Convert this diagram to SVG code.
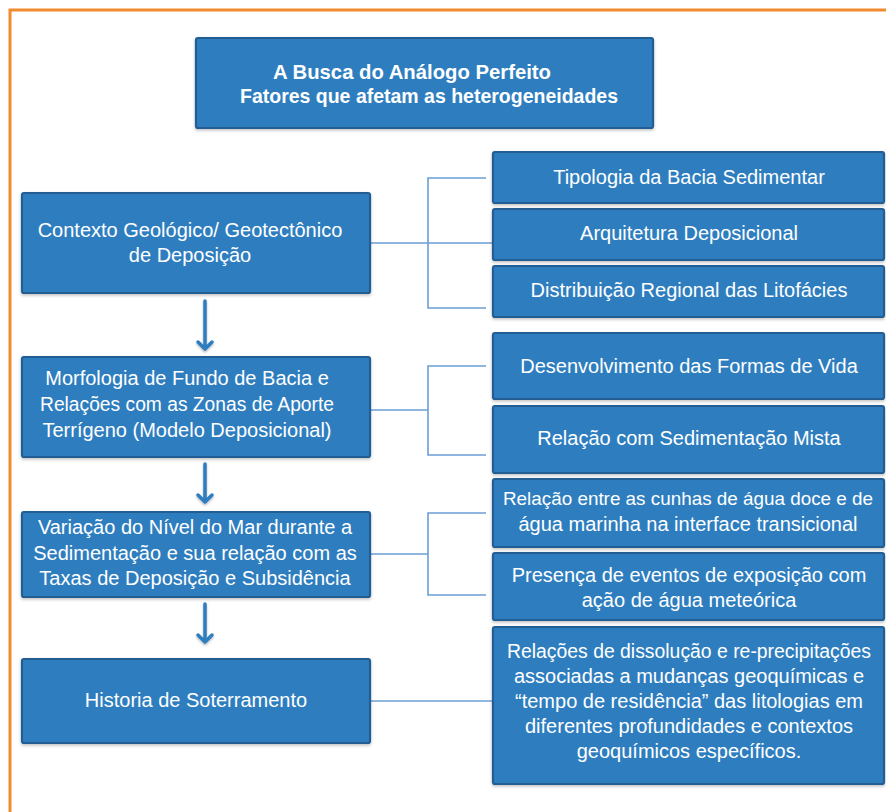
<svg xmlns="http://www.w3.org/2000/svg" width="886" height="812" viewBox="0 0 886 812">
<defs>
<filter id="sh" x="-5%" y="-5%" width="110%" height="115%">
<feDropShadow dx="0" dy="1.5" stdDeviation="1.5" flood-color="#000" flood-opacity="0.25"/>
</filter>
<filter id="ash" x="-50%" y="-10%" width="200%" height="130%">
<feDropShadow dx="0" dy="1.5" stdDeviation="1.2" flood-color="#000" flood-opacity="0.3"/>
</filter>
</defs>
<style>
.box{fill:#2f7ebf;stroke:#215d94;stroke-width:2.2;filter:url(#sh)}
.t{font-family:"Liberation Sans",Arial,sans-serif;font-size:20px;fill:#ffffff;text-anchor:middle}
.tt{font-family:"Liberation Sans",Arial,sans-serif;font-size:21px;font-weight:bold;fill:#ffffff}
.con{fill:none;stroke:#6b9fd3;stroke-width:1.6}
.arr{fill:none;stroke:#2f7ebf;stroke-width:3.5;stroke-linecap:round;stroke-linejoin:round;filter:url(#ash)}
</style>
<rect width="886" height="812" fill="#ffffff"/>
<rect x="10" y="10" width="900" height="830" fill="none" stroke="#f28a2e" stroke-width="3"/>

<g id="connectors">
<path class="con" d="M370,243 H493 M486,178 H428 V308 H486"/>
<path class="con" d="M370,410 H428 M486,366 H428 V455 H486"/>
<path class="con" d="M370,554 H428 M486,513 H428 V595 H486"/>
<path class="con" d="M370,701 H493"/>
<path class="arr" d="M205,301 V349 M198,342 L205,349 L212,342"/>
<path class="arr" d="M205,464 V502 M198,495 L205,502 L212,495"/>
<path class="arr" d="M205,604 V642 M198,635 L205,642 L212,635"/>
</g>

<g id="title">
<rect class="box" x="196" y="38" width="457" height="90" rx="2"/>
<text class="tt" x="273" y="79" textLength="278" lengthAdjust="spacingAndGlyphs">A Busca do Análogo Perfeito</text>
<text class="tt" x="240" y="103" textLength="378" lengthAdjust="spacingAndGlyphs">Fatores que afetam as heterogeneidades</text>
</g>

<g id="n-contexto">
<rect class="box" x="22" y="193" width="348" height="100" rx="2"/>
<text class="t" x="190" y="237">Contexto Geológico/ Geotectônico</text>
<text class="t" x="190" y="262">de Deposição</text>
</g>

<g id="n-morfologia">
<rect class="box" x="22" y="357" width="348" height="100" rx="2"/>
<text class="t" x="187" y="385">Morfologia de Fundo de Bacia e</text>
<text class="t" x="187" y="411" textLength="294" lengthAdjust="spacingAndGlyphs">Relações com as Zonas de Aporte</text>
<text class="t" x="187" y="437">Terrígeno (Modelo Deposicional)</text>
</g>

<g id="n-variacao">
<rect class="box" x="22" y="512" width="348" height="85" rx="2"/>
<text class="t" x="195" y="534">Variação do Nível do Mar durante a</text>
<text class="t" x="195" y="560">Sedimentação e sua relação com as</text>
<text class="t" x="195" y="585">Taxas de Deposição e Subsidência</text>
</g>

<g id="n-historia">
<rect class="box" x="22" y="659" width="348" height="84" rx="2"/>
<text class="t" x="196" y="707">Historia de Soterramento</text>
</g>

<g id="r-tipologia">
<rect class="box" x="493" y="152" width="391" height="51" rx="2"/>
<text class="t" x="689" y="184">Tipologia da Bacia Sedimentar</text>
</g>

<g id="r-arquitetura">
<rect class="box" x="493" y="209" width="391" height="51" rx="2"/>
<text class="t" x="689" y="240">Arquitetura Deposicional</text>
</g>

<g id="r-distribuicao">
<rect class="box" x="493" y="266" width="391" height="51" rx="2"/>
<text class="t" x="689" y="297">Distribuição Regional das Litofácies</text>
</g>

<g id="r-desenvolvimento">
<rect class="box" x="493" y="333" width="391" height="66" rx="2"/>
<text class="t" x="689" y="373">Desenvolvimento das Formas de Vida</text>
</g>

<g id="r-mista">
<rect class="box" x="493" y="406" width="391" height="67" rx="2"/>
<text class="t" x="689" y="445">Relação com Sedimentação Mista</text>
</g>

<g id="r-cunhas">
<rect class="box" x="493" y="479" width="391" height="68" rx="2"/>
<text class="t" x="688" y="505" style="font-size:19px" textLength="370" lengthAdjust="spacingAndGlyphs">Relação entre as cunhas de água doce e de</text>
<text class="t" x="688" y="531">água marinha na interface transicional</text>
</g>

<g id="r-exposicao">
<rect class="box" x="493" y="553" width="391" height="67" rx="2"/>
<text class="t" x="689" y="582">Presença de eventos de exposição com</text>
<text class="t" x="689" y="607">ação de água meteórica</text>
</g>

<g id="r-dissolucao">
<rect class="box" x="493" y="627" width="391" height="157" rx="2"/>
<text class="t" x="689" y="658" textLength="364" lengthAdjust="spacingAndGlyphs">Relações de dissolução e re-precipitações</text>
<text class="t" x="689" y="683">associadas a mudanças geoquímicas e</text>
<text class="t" x="689" y="708">“tempo de residência” das litologias em</text>
<text class="t" x="689" y="733">diferentes profundidades e contextos</text>
<text class="t" x="689" y="758">geoquímicos específicos.</text>
</g>
</svg>
